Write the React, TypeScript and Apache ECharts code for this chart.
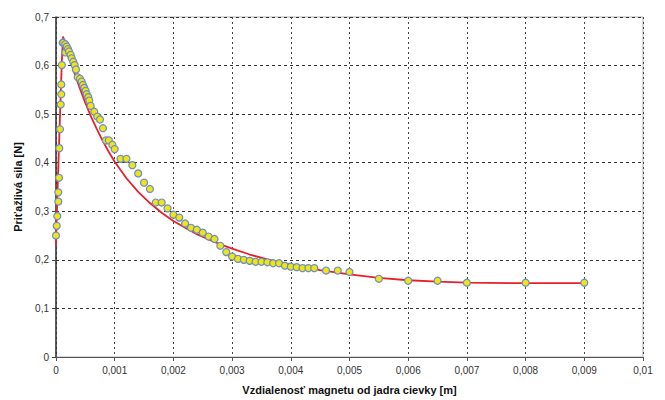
import React, { useEffect, useRef } from "react";
import * as echarts from "echarts";

// Measured points (distance [m], force [N])
const measuredX = [
  0.0, 0.000012, 0.000022, 0.000039, 0.000039, 0.000051, 0.000056, 0.000068, 0.00008, 0.00009, 0.00009, 0.0001, 0.000114,
  0.000124, 0.000158, 0.00016, 0.000182, 0.000204, 0.000221, 0.00025, 0.000267, 0.000294, 0.000318, 0.00034, 0.000369,
  0.000408, 0.000437, 0.000459, 0.000482, 0.000505, 0.000522, 0.00055, 0.000567, 0.00059, 0.000652, 0.000703, 0.000749,
  0.0008, 0.00085, 0.0009, 0.00096, 0.001, 0.0011, 0.0012, 0.0013, 0.0014, 0.0015, 0.0016, 0.0017, 0.0018, 0.0019,
  0.002, 0.0021, 0.0022, 0.0023, 0.0024, 0.0025, 0.0026, 0.0027, 0.0028, 0.0029, 0.003, 0.0031, 0.0032, 0.0033,
  0.0034, 0.0035, 0.0036, 0.0037, 0.0038, 0.0039, 0.004, 0.0041, 0.0042, 0.0043, 0.0044, 0.0046, 0.0048, 0.005,
  0.0055, 0.006, 0.0065, 0.007, 0.008, 0.009,
];
const measuredY = [
  0.25, 0.27, 0.29, 0.32, 0.339, 0.369, 0.43, 0.469, 0.52, 0.541, 0.561, 0.601, 0.647,
  0.647, 0.644, 0.627, 0.639, 0.634, 0.629, 0.622, 0.615, 0.608, 0.601, 0.592, 0.576,
  0.573, 0.567, 0.56, 0.554, 0.548, 0.541, 0.535, 0.528, 0.517, 0.505, 0.495, 0.489,
  0.471, 0.446, 0.446, 0.437, 0.428, 0.408, 0.408, 0.395, 0.378, 0.359, 0.346, 0.318, 0.318, 0.306,
  0.293, 0.287, 0.275, 0.266, 0.262, 0.256, 0.248, 0.243, 0.229, 0.216, 0.207, 0.202, 0.2, 0.198,
  0.196, 0.196, 0.195, 0.193, 0.193, 0.188, 0.186, 0.185, 0.183, 0.183, 0.183, 0.178, 0.178, 0.175,
  0.161, 0.157, 0.157, 0.153, 0.153, 0.153,
];

// Fitted curve (red)
const fitX = [
  0, 0.00002, 0.00005, 0.00008, 0.0001, 0.00012,
  0.0002, 0.0003, 0.0004, 0.0005, 0.0006, 0.0007, 0.0008, 0.0009, 0.001,
  0.0012, 0.0014, 0.0016, 0.0018, 0.002, 0.0022, 0.0024, 0.0026, 0.0028, 0.003,
  0.0033, 0.0036, 0.004, 0.0045, 0.005, 0.0055, 0.006, 0.0065, 0.007, 0.008, 0.009,
];
const fitY = [
  0.23, 0.32, 0.43, 0.54, 0.61, 0.66,
  0.628, 0.59, 0.555, 0.523, 0.494, 0.468, 0.444, 0.422, 0.402,
  0.368, 0.34, 0.317, 0.297, 0.28, 0.266, 0.253, 0.242, 0.232, 0.223,
  0.211, 0.201, 0.19, 0.179, 0.17, 0.163, 0.158, 0.155, 0.153, 0.152, 0.152,
];

const xTicksMax = 0.01;
const yTicksMax = 0.7;

const fmt = (v: number) => {
  if (v === 0) return "0";
  return String(Number(v.toFixed(4))).replace(".", ",");
};

const FONT = "'Liberation Sans', Arial, sans-serif";

export default function App() {
  const ref = useRef<HTMLDivElement>(null);
  useEffect(() => {
    if (!ref.current) return;
    const chart = echarts.init(ref.current, null, { renderer: "svg" });
    const measured = measuredX.map((x, i) => [x, measuredY[i]]);
    const fit = fitX.map((x, i) => [x, fitY[i]]);
    chart.setOption({
      animation: false,
      backgroundColor: "#ffffff",
      grid: { left: 56, right: 22, top: 17, bottom: 43, show: true, borderColor: "#b0b0b0", borderWidth: 1 },
      xAxis: {
        type: "value",
        min: 0,
        max: xTicksMax,
        interval: 0.001,
        name: "Vzdialenosť magnetu od jadra cievky [m]",
        nameLocation: "middle",
        nameGap: 27,
        nameTextStyle: { fontFamily: FONT, fontWeight: "bold", fontSize: 11, color: "#111" },
        axisLine: { show: true, onZero: false, lineStyle: { color: "#555", width: 1 } },
        axisTick: { show: true, length: 4, lineStyle: { color: "#555" } },
        axisLabel: { formatter: fmt, fontFamily: FONT, fontSize: 10, color: "#333", margin: 8 },
        splitLine: { show: true, lineStyle: { color: "#444", type: [2, 3], width: 1 } },
      },
      yAxis: {
        type: "value",
        min: 0,
        max: yTicksMax,
        interval: 0.1,
        name: "Priťažlivá sila [N]",
        nameLocation: "middle",
        nameGap: 33,
        nameTextStyle: { fontFamily: FONT, fontWeight: "bold", fontSize: 11, color: "#111" },
        axisLine: { show: true, onZero: false, lineStyle: { color: "#333", width: 1.5 } },
        axisTick: { show: true, length: 4, lineStyle: { color: "#444" } },
        axisLabel: { formatter: fmt, fontFamily: FONT, fontSize: 10, color: "#333", margin: 7 },
        splitLine: { show: true, lineStyle: { color: "#333", type: [3, 3], width: 1.2 } },
      },
      series: [
        {
          type: "line",
          data: fit,
          showSymbol: false,
          smooth: false,
          lineStyle: { color: "#e8202a", width: 1.8 },
          z: 2,
        },
        {
          type: "scatter",
          data: measured,
          symbol: "circle",
          symbolSize: 7,
          itemStyle: { color: "#eee512", borderColor: "#6c8cc8", borderWidth: 1.2, opacity: 1 },
          z: 3,
        },
      ],
    });
    return () => chart.dispose();
  }, []);
  return (
    <div
      ref={ref}
      style={{ position: "fixed", left: 0, top: 0, width: 665, height: 400, background: "#fff" }}
    />
  );
}
